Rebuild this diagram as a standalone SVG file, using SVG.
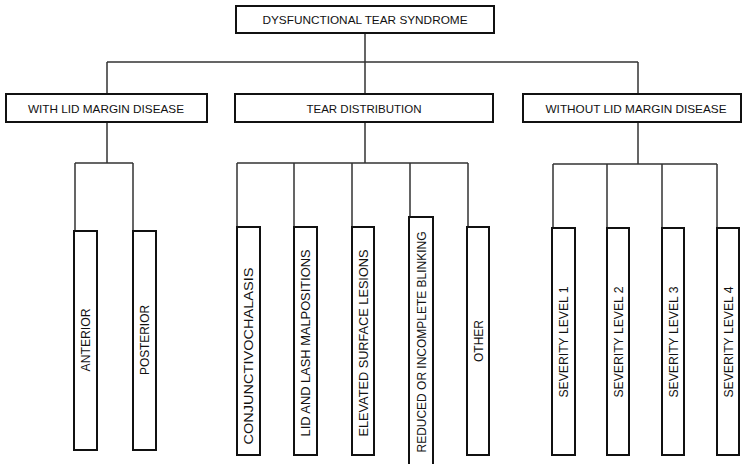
<svg xmlns="http://www.w3.org/2000/svg" width="746" height="464" viewBox="0 0 746 464">
<style>
.box{fill:#fff;stroke:#111;stroke-width:2}
.con{fill:none;stroke:#333;stroke-width:1.5}
text{font-family:"Liberation Sans",Arial,sans-serif;font-size:11.5px;fill:#111;text-anchor:middle}
.v{font-size:12px}
</style>
<rect width="746" height="464" fill="#fff"/>
<g id="connectors" class="con">
<path d="M365 33V62M107 62H638M107 62V94M365 62V94M638 62V94"/>
<path d="M107 122V163M75 163H133M75 163V231M133 163V231"/>
<path d="M365 122V163M237 163H468M237 163V227M294 163V227M352 163V227M410 163V217M468 163V227"/>
<path d="M638 122V164M553 164H717M553 164V228M607 164V228M662 164V228M717 164V228"/>
</g>
<g id="n-dts"><rect class="box" x="236" y="6" width="258" height="27"/><text x="365" y="24" textLength="205" lengthAdjust="spacingAndGlyphs">DYSFUNCTIONAL TEAR SYNDROME</text></g>
<g id="n-with"><rect class="box" x="6" y="94" width="201" height="28"/><text x="106" y="112.5" textLength="156" lengthAdjust="spacingAndGlyphs">WITH LID MARGIN DISEASE</text></g>
<g id="n-tear"><rect class="box" x="235" y="94" width="258" height="28"/><text x="364" y="112.5" textLength="115" lengthAdjust="spacingAndGlyphs">TEAR DISTRIBUTION</text></g>
<g id="n-without"><rect class="box" x="523" y="94" width="218" height="28"/><text x="636" y="112.5" textLength="181" lengthAdjust="spacingAndGlyphs">WITHOUT LID MARGIN DISEASE</text></g>
<g id="n-anterior"><rect class="box" x="74" y="231" width="23" height="219"/><text class="v" transform="translate(85.5,340) rotate(-90)" y="4.5" textLength="63" lengthAdjust="spacingAndGlyphs">ANTERIOR</text></g>
<g id="n-posterior"><rect class="box" x="133" y="231" width="23" height="219"/><text class="v" transform="translate(144.5,340) rotate(-90)" y="4.5" textLength="70" lengthAdjust="spacingAndGlyphs">POSTERIOR</text></g>
<g id="n-conj"><rect class="box" x="237" y="227" width="23" height="228"/><text class="v" transform="translate(248.5,356) rotate(-90)" y="4.5" textLength="177" lengthAdjust="spacingAndGlyphs">CONJUNCTIVOCHALASIS</text></g>
<g id="n-lid"><rect class="box" x="294" y="227" width="23" height="228"/><text class="v" transform="translate(305.5,343) rotate(-90)" y="4.5" textLength="187" lengthAdjust="spacingAndGlyphs">LID AND LASH MALPOSITIONS</text></g>
<g id="n-elev"><rect class="box" x="352" y="227" width="22" height="228"/><text class="v" transform="translate(363,343) rotate(-90)" y="4.5" textLength="187" lengthAdjust="spacingAndGlyphs">ELEVATED SURFACE LESIONS</text></g>
<g id="n-reduced"><rect class="box" x="409" y="217" width="24" height="260"/><text class="v" transform="translate(421,342) rotate(-90)" y="4.5" textLength="221" lengthAdjust="spacingAndGlyphs">REDUCED OR INCOMPLETE BLINKING</text></g>
<g id="n-other"><rect class="box" x="467" y="227" width="22" height="228"/><text class="v" transform="translate(478,341) rotate(-90)" y="4.5" textLength="42" lengthAdjust="spacingAndGlyphs">OTHER</text></g>
<g id="n-s1"><rect class="box" x="552" y="228" width="23" height="227"/><text class="v" transform="translate(563.5,342) rotate(-90)" y="4.5" textLength="111" lengthAdjust="spacingAndGlyphs">SEVERITY LEVEL 1</text></g>
<g id="n-s2"><rect class="box" x="607" y="228" width="22" height="227"/><text class="v" transform="translate(618,342) rotate(-90)" y="4.5" textLength="111" lengthAdjust="spacingAndGlyphs">SEVERITY LEVEL 2</text></g>
<g id="n-s3"><rect class="box" x="662" y="228" width="22" height="227"/><text class="v" transform="translate(673,342) rotate(-90)" y="4.5" textLength="111" lengthAdjust="spacingAndGlyphs">SEVERITY LEVEL 3</text></g>
<g id="n-s4"><rect class="box" x="717" y="228" width="22" height="227"/><text class="v" transform="translate(728,342) rotate(-90)" y="4.5" textLength="111" lengthAdjust="spacingAndGlyphs">SEVERITY LEVEL 4</text></g>
</svg>
